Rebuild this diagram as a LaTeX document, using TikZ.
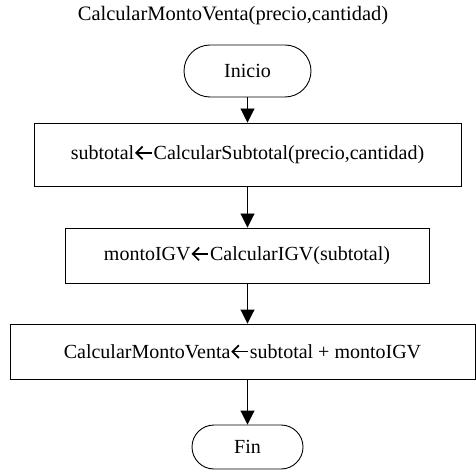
\documentclass[tikz,border=0pt]{standalone}
\usepackage{fontspec}
\setmainfont{Liberation Serif}
\usetikzlibrary{arrows.meta,shapes.misc}
\tikzset{
  flow/.style={draw=black, line width=0.9pt, fill=white, font=\fontsize{20}{24}\selectfont, inner sep=0pt},
  procbox/.style={flow, rectangle},
  termbox/.style={flow, rounded rectangle},
  flowarrow/.style={line width=0.9pt, -{Triangle[length=14pt,width=14pt]}},
}
% assignment arrow: a bold left arrow with an open chevron head
\newcommand{\asig}{\hspace{0.06em}\tikz[baseline=0pt, x=1em, y=1em]{%
  \draw[line width=0.085em, line join=miter] (0.37,0.64) -- (0.05,0.32) -- (0.37,0.0);
  \draw[line width=0.085em] (0.08,0.32) -- (0.84,0.32);}\hspace{0.04em}}
\begin{document}
\begin{tikzpicture}[x=1pt,y=-1pt]
  \useasboundingbox (0,0) rectangle (476,470);
  \node[font=\fontsize{20.5}{24}\selectfont] (title) at (233,16) {CalcularMontoVenta(precio,cantidad)};
  \node[termbox, minimum width=127pt, minimum height=52pt] (inicio) at (247.5,71) {Inicio};
  \node[procbox, minimum width=427pt, minimum height=63pt] (sub) at (247.5,154.5) {subtotal\asig CalcularSubtotal(precio,cantidad)};
  \node[procbox, minimum width=364pt, minimum height=55pt] (igv) at (247,255.5) {montoIGV\asig CalcularIGV(subtotal)};
  \node[procbox, minimum width=465pt, minimum height=55pt] (venta) at (242.5,351.5) {CalcularMontoVenta\asig subtotal + montoIGV};
  \node[termbox, minimum width=111pt, minimum height=44pt] (fin) at (247.5,447) {Fin};
  \draw[flowarrow] (inicio.south) -- (inicio.south |- sub.north);
  \draw[flowarrow] (inicio.south |- sub.south) -- (inicio.south |- igv.north);
  \draw[flowarrow] (inicio.south |- igv.south) -- (inicio.south |- venta.north);
  \draw[flowarrow] (inicio.south |- venta.south) -- (fin.north);
\end{tikzpicture}
\end{document}
